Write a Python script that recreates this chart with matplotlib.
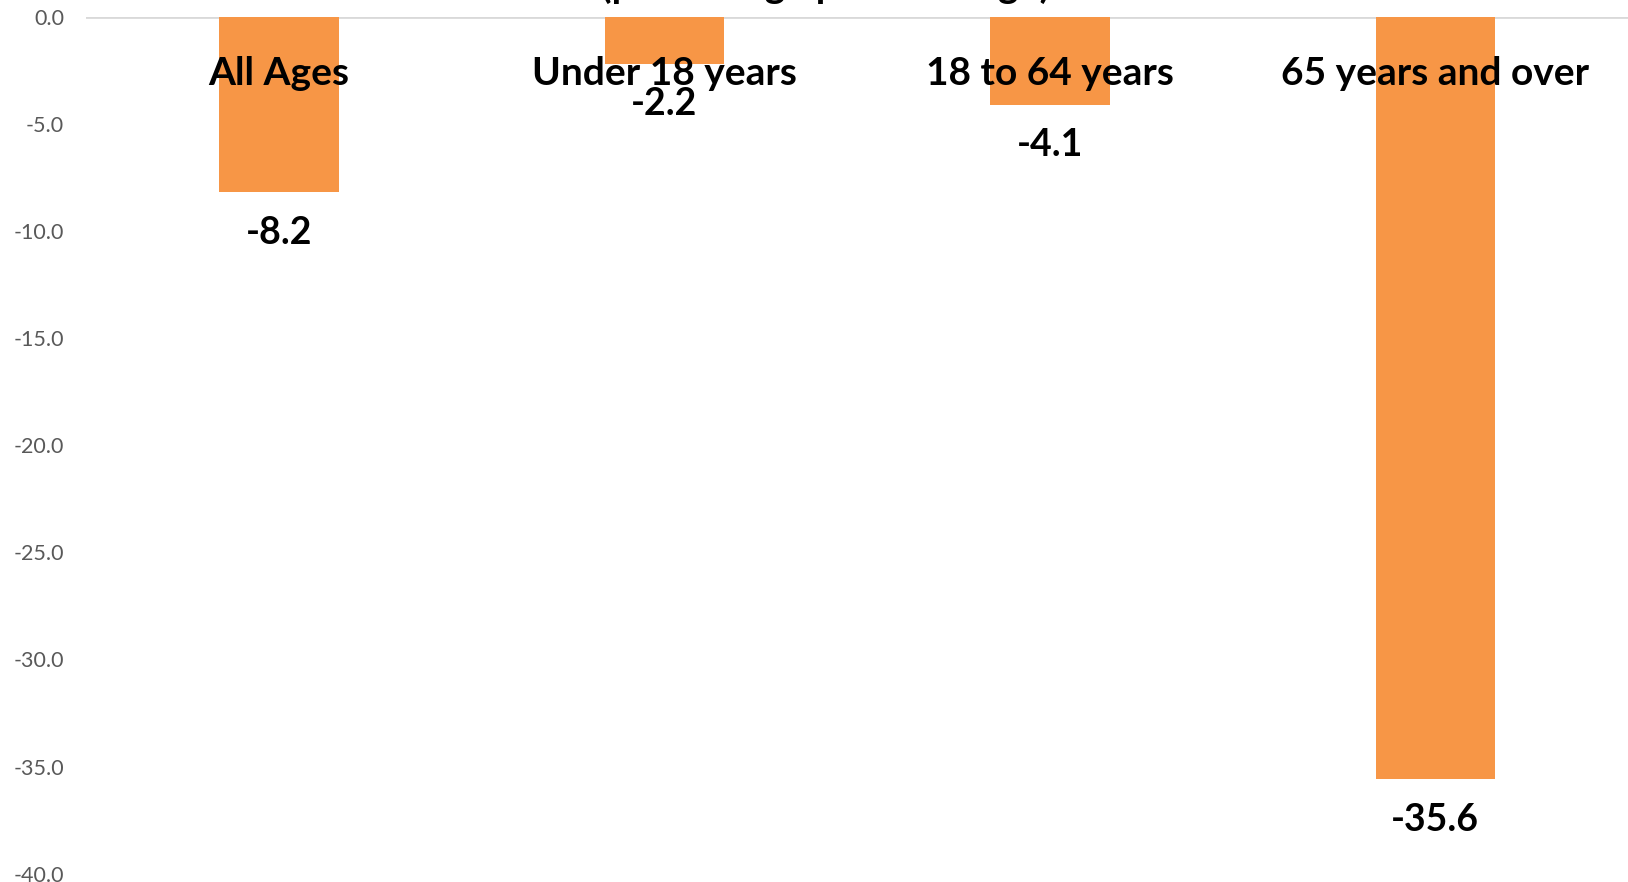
import matplotlib
matplotlib.use("Agg")
import matplotlib.pyplot as plt
import matplotlib.ticker as mticker

categories = ["All Ages", "Under 18 years", "18 to 64 years", "65 years and over"]
values = [-8.2, -2.2, -4.1, -35.6]
title = "(percentage point change)"

plt.rcParams['font.family'] = ['Lato', 'DejaVu Sans']

fig = plt.figure(figsize=(16.28, 8.82), dpi=100)
ax = fig.add_axes([0.053, 0.0094, 0.947, 0.9716])

x = range(len(categories))
ax.bar(x, values, width=0.31, color='#F79646', zorder=2)

ax.set_xlim(-0.5, 3.5)
ax.set_ylim(-40, 0)
ax.yaxis.set_major_locator(mticker.MultipleLocator(5))
ax.yaxis.set_major_formatter(mticker.FormatStrFormatter('%.1f'))
ax.tick_params(axis='y', length=0, labelsize=15.5, labelcolor='#595959', pad=16)
ax.set_xticks([])
for s in ax.spines.values():
    s.set_visible(False)
ax.axhline(0, color='#D9D9D9', lw=2, zorder=1)

for i, (c, v) in enumerate(zip(categories, values)):
    ax.text(i, -2.65, c, ha='center', va='center', fontsize=28,
            fontweight='bold', color='black', zorder=3)
    ax.annotate(f"{v:.1f}", (i, v), xytext=(0, -29), textcoords='offset points',
                ha='center', va='center', fontsize=27, fontweight='bold',
                color='black', zorder=3)

fig.text(0.507, 1.002, title, ha='center', va='baseline', fontsize=28,
         fontweight='bold', color='black')

fig.savefig('out.png', dpi=100)
